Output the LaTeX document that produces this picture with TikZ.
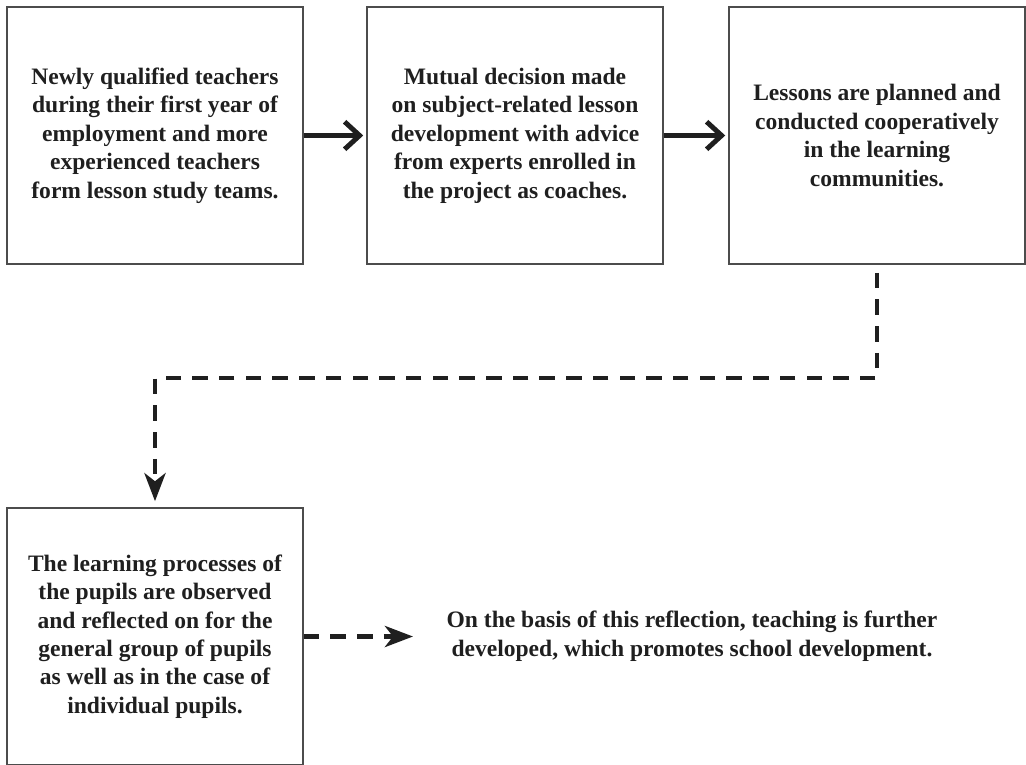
\documentclass[tikz,border=0pt]{standalone}
\usepackage{fontspec}
\setmainfont{Liberation Serif}
\usetikzlibrary{arrows.meta,calc}
\begin{document}
\begin{tikzpicture}[x=0.02cm,y=-0.02cm,
  txt/.style={align=center, font=\fontsize{13.4}{16.2}\selectfont\bfseries, text=black!88},
  box/.style={txt, draw=black!70, line width=0.9pt, minimum width=5.92cm, minimum height=5.14cm, inner sep=0pt},
  solidarrow/.style={line width=2.8pt, -{Straight Barb[length=0.3cm,width=0.55cm]}, draw=black!88},
  dasharrow/.style={line width=2.8pt, dash pattern=on 8.8pt off 6.4pt, draw=black!88, -{Stealth[length=0.56cm,width=0.42cm,inset=0.16cm]}}
]
\useasboundingbox (0,0) rectangle (1026,764);

\node[box] (b1) at (155,135.5) {Newly qualified teachers\\during their first year of\\employment and more\\experienced teachers\\form lesson study teams.};
\node[box] (b2) at (515,135.5) {Mutual decision made\\on subject-related lesson\\development with advice\\from experts enrolled in\\the project as coaches.};
\node[box] (b3) at (877,135.5) {Lessons are planned and\\conducted cooperatively\\in the learning\\communities.};
\node[box] (b4) at (155,636.5) {The learning processes of\\the pupils are observed\\and reflected on for the\\general group of pupils\\as well as in the case of\\individual pupils.};
\node[txt] (t5) at (692,636) {On the basis of this reflection, teaching is further\\developed, which promotes school development.};

\coordinate (c1) at (877,378);
\coordinate (tip) at (413,636.5);

\draw[solidarrow, shorten >=0.06cm] (b1.east) -- (b2.west);
\draw[solidarrow, shorten >=0.06cm] (b2.east) -- (b3.west);
\draw[dasharrow, shorten <=0.16cm, shorten >=0.12cm] (b3.south) -- (c1) -| (b4.north);
\draw[dasharrow] (b4.east) -- (tip);
\end{tikzpicture}
\end{document}
